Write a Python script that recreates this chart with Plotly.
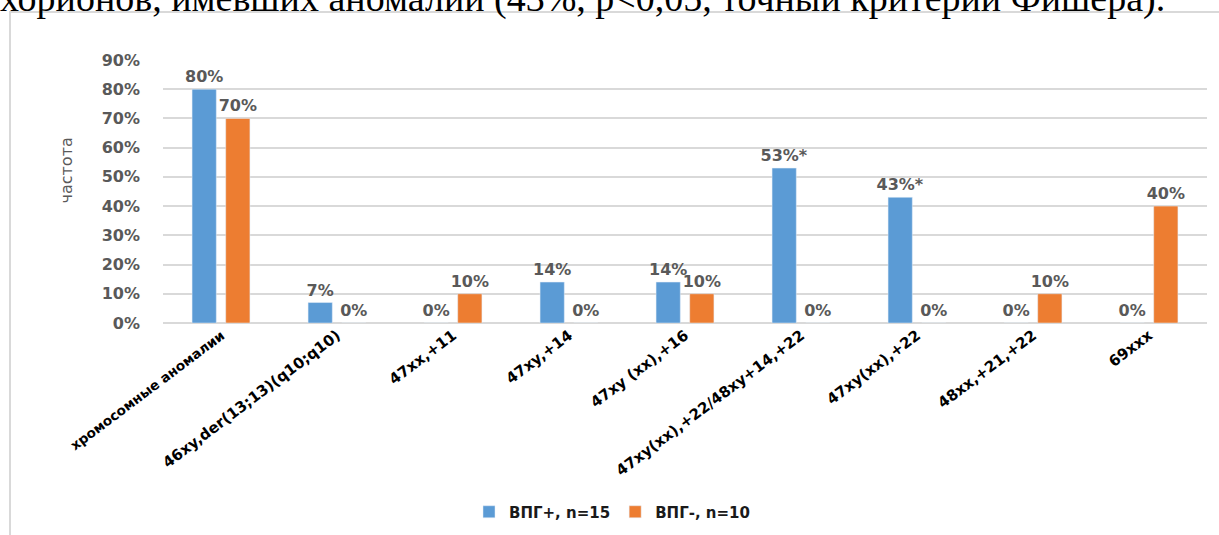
import plotly.graph_objects as go

categories = ["хромосомные аномалии", "46xy,der(13;13)(q10;q10)", "47xx,+11", "47xy,+14",
              "47xy (xx),+16", "47xy(xx),+22/48xy+14,+22", "47xy(xx),+22", "48xx,+21,+22", "69xxx"]
vpg_pos = [0.80, 0.07, 0.00, 0.14, 0.14, 0.53, 0.43, 0.00, 0.00]
vpg_neg = [0.70, 0.00, 0.10, 0.00, 0.10, 0.00, 0.00, 0.10, 0.40]
vpg_pos_text = ["80%", "7%", "0%", "14%", "14%", "53%*", "43%*", "0%", "0%"]
vpg_neg_text = ["70%", "0%", "10%", "0%", "10%", "0%", "0%", "10%", "40%"]
y_ticks = [0, 0.1, 0.2, 0.3, 0.4, 0.5, 0.6, 0.7, 0.8, 0.9]

W, H = 1219, 535
L, R, T, B = 163, 12, 60, 212
pw, ph = W - L - R, H - T - B

def px(x):
    return (x - L) / pw

def py(y):
    return (H - B - y) / ph

FONT = "DejaVu Sans"
lab_font = dict(family=FONT, size=16, color="#595959", weight="bold")

# Cyrillic label is rendered slightly smaller (narrower glyphs in the original font)
tick_text = [f"<span style='font-size:13.5px'>{c}</span>" if any("а" <= ch <= "я" for ch in c) else c
             for c in categories]

fig = go.Figure()
fig.add_trace(go.Bar(x=categories, y=vpg_pos, name="ВПГ+, n=15", marker_color="#5B9BD5",
                     text=vpg_pos_text, textposition="outside", textfont=lab_font,
                     constraintext="none", cliponaxis=False))
fig.add_trace(go.Bar(x=categories, y=vpg_neg, name="ВПГ-, n=10", marker_color="#ED7D31",
                     text=vpg_neg_text, textposition="outside", textfont=lab_font,
                     constraintext="none", cliponaxis=False))

fig.update_layout(
    width=W, height=H,
    margin=dict(l=L, r=R, t=T, b=B, autoexpand=False),
    paper_bgcolor="white", plot_bgcolor="white",
    barmode="group", bargap=0.42, bargroupgap=0.28,
    font=dict(family=FONT, color="#595959"),
    showlegend=True,
    legend=dict(orientation="h", x=px(612), xanchor="center", y=py(512), yanchor="middle",
                font=dict(family=FONT, size=15, color="#1a1a1a", weight="bold"),
                itemwidth=30, tracegroupgap=0),
)
fig.update_yaxes(range=[0, 0.9], tickvals=y_ticks, tickformat=".0%", automargin=False,
                 gridcolor="#d9d9d9", gridwidth=1.5, zeroline=True, zerolinecolor="#d9d9d9",
                 zerolinewidth=1.5, showline=False, ticklabelstandoff=22,
                 tickfont=dict(family=FONT, size=16, color="#595959", weight="bold"))
fig.update_xaxes(tickangle=-37, showline=False, showgrid=False, automargin=False,
                 tickvals=categories, ticktext=tick_text,
                 tickfont=dict(family=FONT, size=15, color="#000000", weight="bold"))

fig.add_annotation(text="частота", textangle=-90, x=px(54), y=py(171), xref="paper", yref="paper",
                   showarrow=False, font=dict(family=FONT, size=16, color="#595959"))
fig.add_annotation(text="хорионов, имевших аномалии (43%, р<0,05, точный критерий Фишера).",
                   x=px(-2), xanchor="left", y=py(22), yanchor="bottom", xref="paper", yref="paper",
                   showarrow=False, font=dict(family="Liberation Serif", size=38, color="#000000"))
fig.add_shape(type="rect", xref="paper", yref="paper", x0=px(10), y0=py(545), x1=px(1230), y1=py(12),
              line=dict(color="#d9d9d9", width=2), fillcolor="rgba(0,0,0,0)", layer="below")

fig.write_html("out.html", config={"displayModeBar": False},
               post_script="document.body.style.margin='0px';")
